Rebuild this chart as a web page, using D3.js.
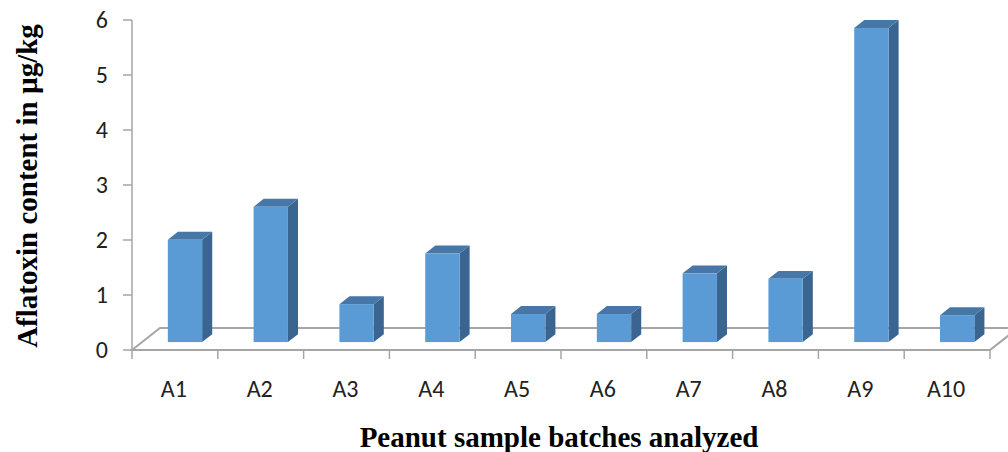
<!DOCTYPE html>
<html>
<head>
<meta charset="utf-8">
<script src="https://cdn.jsdelivr.net/npm/d3@7"></script>
<style>
  body { margin: 0; background: #fff; }
  svg { display: block; }
</style>
</head>
<body>
<div class="chart"></div>
<script>

var batches = ["A1", "A2", "A3", "A4", "A5", "A6", "A7", "A8", "A9", "A10"];
var aflatoxin = [1.86, 2.46, 0.69, 1.61, 0.51, 0.51, 1.25, 1.15, 5.71, 0.49];
var yTicks = [0, 1, 2, 3, 4, 5, 6];

var width = 1008, height = 452;
var plotLeft = 132, plotRight = 990, plotTop = 20, floorY = 350;

// oblique depth of the floor, bars sit in the middle of it
var depth = { dx: 28, dy: -22 };
var f0 = 0.36, f1 = 0.72;

var x = d3.scaleBand()
    .domain(batches)
    .range([plotLeft, plotRight])
    .paddingInner(0.6)
    .paddingOuter(0.3);

var xStep = d3.scaleBand().domain(batches).range([plotLeft, plotRight]);

var y = d3.scaleLinear()
    .domain([0, 6])
    .range([floorY, plotTop]);

var svg = d3.select('.chart')
    .append('svg')
    .attr('width', width)
    .attr('height', height);

var gridCol = "#a6a6a6";
var labelFont = "Calibri, Carlito, 'Open Sans', sans-serif";

// floor
svg.append("path")
    .attr("d", "M" + plotLeft + "," + y(0) +
        "L" + (plotLeft + depth.dx) + "," + (y(0) + depth.dy) +
        "L" + (plotRight + depth.dx) + "," + (y(0) + depth.dy) +
        "L" + plotRight + "," + y(0) + "Z")
    .attr("stroke", gridCol)
    .attr("stroke-width", 2)
    .attr("fill", "none");

// category ticks below the floor
svg.append("g")
    .selectAll("line")
    .data(batches.concat(["end"]))
    .enter()
    .append("line")
    .attr("x1", (d, i) => i < batches.length ? xStep(d) : plotRight)
    .attr("x2", (d, i) => i < batches.length ? xStep(d) : plotRight)
    .attr("y1", y(0))
    .attr("y2", y(0) + 9)
    .attr("stroke", gridCol)
    .attr("stroke-width", 1.5);

// value axis
var yAxis = svg.append("g");
yAxis.append("line")
    .attr("x1", plotLeft).attr("x2", plotLeft)
    .attr("y1", y(6)).attr("y2", y(0))
    .attr("stroke", gridCol)
    .attr("stroke-width", 1.5);

yAxis.selectAll(".tick")
    .data(yTicks)
    .enter()
    .append("line")
    .attr("x1", plotLeft - 9).attr("x2", plotLeft)
    .attr("y1", d => y(d)).attr("y2", d => y(d))
    .attr("stroke", gridCol)
    .attr("stroke-width", 1.5);

yAxis.selectAll("text")
    .data(yTicks)
    .enter()
    .append("text")
    .attr("x", 108)
    .attr("y", d => y(d))
    .attr("dy", "0.33em")
    .attr("text-anchor", "end")
    .attr("font-family", labelFont)
    .attr("font-size", 24)
    .attr("fill", "#222")
    .text(d => d);

// bars
var fx = depth.dx * f0, fy = depth.dy * f0;
var bx = depth.dx * (f1 - f0), by = depth.dy * (f1 - f0);
var bw = x.bandwidth();

var bars = svg.append("g")
    .selectAll("g")
    .data(batches)
    .enter()
    .append("g");

function pts(p) { return p.map(q => q.join(",")).join(" "); }

bars.append("polygon") // side
    .attr("points", (d, i) => {
        var x1 = x(d) + fx + bw, yb = y(0) + fy, yt = y(aflatoxin[i]) + fy;
        return pts([[x1, yb], [x1 + bx, yb + by], [x1 + bx, yt + by], [x1, yt]]);
    })
    .attr("fill", "#3a6591");

bars.append("polygon") // top
    .attr("points", (d, i) => {
        var x0 = x(d) + fx, yt = y(aflatoxin[i]) + fy;
        return pts([[x0, yt], [x0 + bx, yt + by], [x0 + bw + bx, yt + by], [x0 + bw, yt]]);
    })
    .attr("fill", "#4677a6");

bars.append("rect") // front
    .attr("x", d => x(d) + fx)
    .attr("y", (d, i) => y(aflatoxin[i]) + fy)
    .attr("width", bw)
    .attr("height", (d, i) => y(0) - y(aflatoxin[i]))
    .attr("fill", "#5b9bd5");

// category labels
svg.append("g")
    .selectAll("text")
    .data(batches)
    .enter()
    .append("text")
    .attr("x", d => xStep(d) + xStep.bandwidth() / 2 - 1)
    .attr("y", 397)
    .attr("text-anchor", "middle")
    .attr("font-family", labelFont)
    .attr("font-size", 24)
    .attr("fill", "#222")
    .text(d => d);

// axis titles
svg.append("text")
    .attr("x", 559)
    .attr("y", 447)
    .attr("text-anchor", "middle")
    .attr("font-family", "'Liberation Serif', 'Times New Roman', serif")
    .attr("font-weight", "bold")
    .attr("font-size", 29)
    .attr("fill", "#000")
    .text("Peanut sample batches analyzed");

svg.append("text")
    .attr("transform", "translate(37,186) rotate(-90)")
    .attr("text-anchor", "middle")
    .attr("font-family", "'Liberation Serif', 'Times New Roman', serif")
    .attr("font-weight", "bold")
    .attr("font-size", 29)
    .attr("fill", "#000")
    .text("Aflatoxin content in µg/kg");

</script>
</body>
</html>
